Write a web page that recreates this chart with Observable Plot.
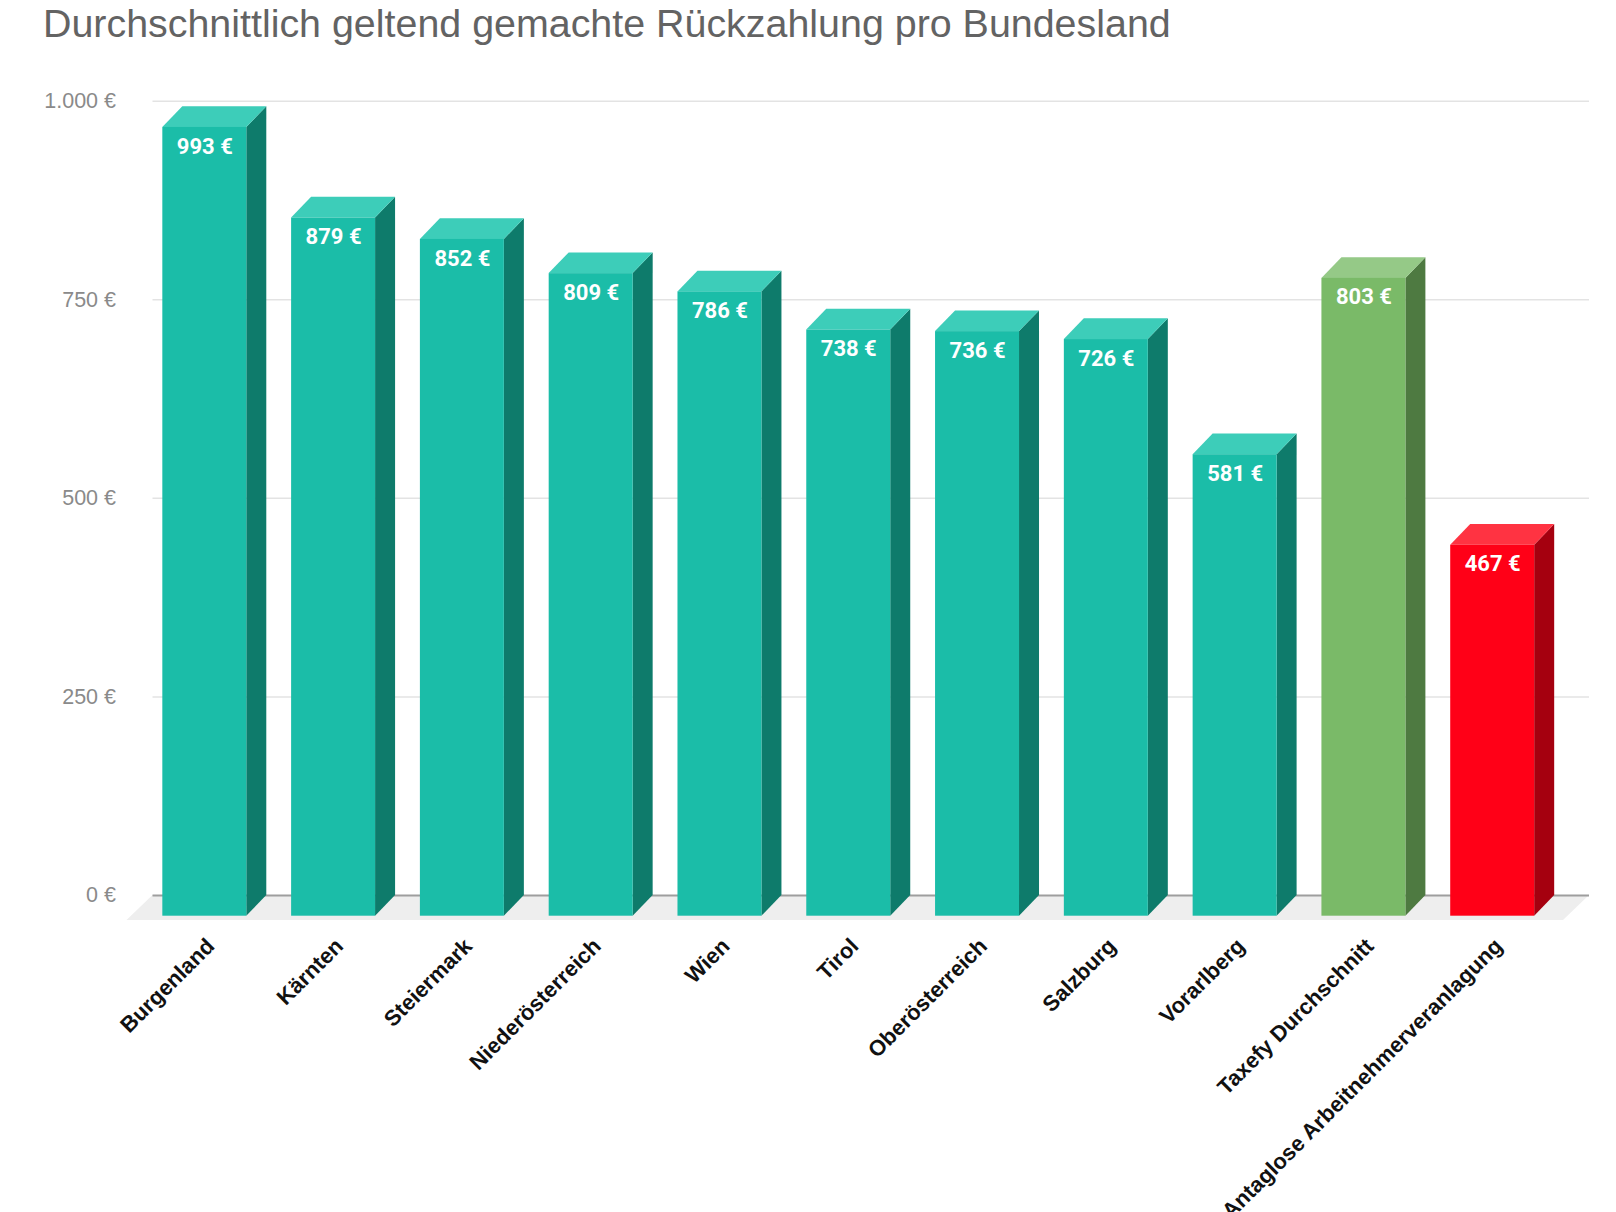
<!DOCTYPE html>
<html><head><meta charset="utf-8">
<script src="https://cdn.jsdelivr.net/npm/d3@7"></script>
<script src="https://cdn.jsdelivr.net/npm/@observablehq/plot@0.6"></script>
<style>
html,body{margin:0;padding:0;background:#fff;overflow:hidden;}
#title{height:60px;position:relative;}
#title span{position:absolute;left:43px;top:0;font-family:"Liberation Sans",Arial,sans-serif;font-size:39.4px;line-height:46px;color:#636363;white-space:nowrap;}
</style></head><body>
<div id="title"><span>Durchschnittlich geltend gemachte Rückzahlung pro Bundesland</span></div>
<div id="chart"></div>
<script>
// ---- data ----
const categories = ["Burgenland","Kärnten","Steiermark","Niederösterreich","Wien","Tirol","Oberösterreich","Salzburg","Vorarlberg","Taxefy Durchschnitt","Antaglose Arbeitnehmerveranlagung"];
const values = [993, 879, 852, 809, 786, 738, 736, 726, 581, 803, 467];
const kinds = ["region","region","region","region","region","region","region","region","region","average","baseline"];
const yTicks = [0, 250, 500, 750, 1000];
const yTickLabels = ["0 €", "250 €", "500 €", "750 €", "1.000 €"];
const valueLabels = values.map(v => `${v} €`);

// ---- styles ----
const palette = {
  region:   {front: "#1bbda8", side: "#0e7b6b", top: "#3dcdb9"},
  average:  {front: "#7aba68", side: "#4e7a41", top: "#95c987"},
  baseline: {front: "#ff0017", side: "#a5000f", top: "#ff3342"}
};
const DX = 20, DY = 20.7;   // 3D depth offset (px)
const NS = "http://www.w3.org/2000/svg";

const rows = categories.map((c, i) => ({category: c, value: values[i], kind: kinds[i], label: valueLabels[i]}));

function poly(pts, fill) {
  const p = document.createElementNS(NS, "polygon");
  p.setAttribute("points", pts.map(d => d.join(",")).join(" "));
  p.setAttribute("fill", fill);
  return p;
}

// floor parallelogram under the bars
function floorMark(index, scales, vals, dims) {
  const g = document.createElementNS(NS, "g");
  const y0 = scales.y(0);
  const xl = dims.marginLeft + 15, xr = dims.width - dims.marginRight - 10;
  g.appendChild(poly([[xl, y0], [xr, y0], [xr - 26, y0 + 25], [xl - 26, y0 + 25]], "#eeeeee"));
  return g;
}

// side and top faces of the 3D bars
function depthMark(index, scales, vals, dims) {
  const g = document.createElementNS(NS, "g");
  const x = scales.x, y = scales.y;
  const bw = x.bandwidth ? x.bandwidth() : scales.scales.x.bandwidth;
  const y0 = y(0);
  rows.forEach(d => {
    const L = x(d.category), R = L + bw, T = y(d.value);
    const c = palette[d.kind];
    g.appendChild(poly([[R - DX, T + DY], [R, T], [R, y0], [R - DX, y0 + DY]], c.side));
    g.appendChild(poly([[L - DX, T + DY], [R - DX, T + DY], [R, T], [L, T]], c.top));
  });
  return g;
}

const chart = Plot.plot({
  width: 1616,
  height: 1152,
  marginLeft: 137.5,
  marginRight: 17,
  marginTop: 40.7,
  marginBottom: 317,
  style: {fontFamily: "'Liberation Sans', Arial, sans-serif", background: "white"},
  x: {type: "band", domain: categories, padding: 0.348, round: false},
  y: {domain: [0, 1000]},
  marks: [
    Plot.ruleY(yTicks.filter(d => d > 0), {stroke: "#e3e3e3", strokeWidth: 1.5, insetLeft: 15, insetRight: 10}),
    floorMark,
    Plot.ruleY([0], {stroke: "#9e9e9e", strokeWidth: 2, insetLeft: 15, insetRight: 10}),
    depthMark,
    Plot.barY(rows, {x: "category", y: "value", dx: -DX, dy: DY, fill: d => palette[d.kind].front}),
    Plot.text(rows, {x: "category", y: "value", text: "label", dx: -DX, dy: DY + 19, fill: "white",
      fontSize: 22, fontWeight: "bold", fontFamily: "Roboto, sans-serif"}),
    Plot.axisY(yTicks, {tickFormat: d => yTickLabels[yTicks.indexOf(d)], tickSize: 0, tickPadding: 22,
      fontSize: 21.5, fill: "#8a8a8a", label: null}),
    Plot.axisX(categories, {tickRotate: -45, tickSize: 0, tickPadding: 47, dx: -14, fontSize: 22,
      fontWeight: "bold", fill: "#111", label: null})
  ]
});
document.getElementById("chart").appendChild(chart);
</script>
</body></html>
